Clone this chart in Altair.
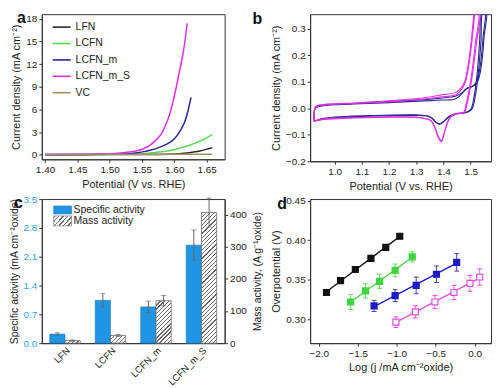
import altair as alt
import pandas as pd

FONT = "Liberation Sans"

# ---------------- panel a : LSV curves ----------------
a_names = ["LFN", "LCFN", "LCFN_m", "LCFN_m_S", "VC"]
a_colors = ["#2a2a2a", "#55d855", "#262690", "#e22ee2", "#a3925f"]
lfn_pot = [1.40, 1.45, 1.50, 1.55, 1.59, 1.615, 1.64, 1.659]
lfn_cur = [0.0, 0.01, 0.02, 0.04, 0.08, 0.21, 0.5, 0.94]
lcfn_pot = [1.40, 1.45, 1.50, 1.542, 1.571, 1.596, 1.62, 1.64, 1.659]
lcfn_cur = [0.01, 0.02, 0.04, 0.1, 0.3, 0.6, 1.16, 1.8, 2.66]
lcfnm_pot = [1.40, 1.45, 1.50, 1.527, 1.54, 1.551, 1.564, 1.576, 1.586, 1.596, 1.604, 1.61, 1.616, 1.62, 1.626]
lcfnm_cur = [0.02, 0.04, 0.07, 0.13, 0.24, 0.38, 0.62, 0.94, 1.3, 1.8, 2.5, 3.3, 4.3, 5.4, 7.6]
lcfnms_pot = [1.40, 1.45, 1.50, 1.517, 1.53, 1.542, 1.552, 1.561, 1.571, 1.581, 1.587, 1.593, 1.598, 1.603, 1.608, 1.613, 1.617, 1.62]
lcfnms_cur = [0.03, 0.06, 0.12, 0.22, 0.35, 0.52, 0.8, 1.16, 1.9, 2.9, 4.0, 5.4, 7.0, 8.9, 11.0, 13.1, 15.3, 17.4]
vc_pot = [1.40, 1.50, 1.60, 1.659]
vc_cur = [0.05, 0.05, 0.06, 0.07]

# ---------------- panel b : CV loops (two cycles each) ----------------
b_names = ["LCFN_m", "LCFN_m_S"]
b_colors = ["#2d2db8", "#dd48dd"]
cvm1_pot = [0.925, 0.93, 0.96, 1.00, 1.07, 1.15, 1.25, 1.33, 1.39, 1.446, 1.475, 1.487, 1.505, 1.522, 1.534, 1.543, 1.550, 1.558,
            1.546, 1.538, 1.528, 1.517, 1.505, 1.487, 1.446, 1.425, 1.41, 1.396, 1.385, 1.372, 1.36, 1.345, 1.30, 1.20, 1.10, 1.00, 0.96, 0.935, 0.925]
cvm1_cur = [-0.05, 0.0, 0.01, 0.013, 0.016, 0.019, 0.024, 0.028, 0.031, 0.036, 0.063, 0.075, 0.081, 0.093, 0.129, 0.189, 0.273, 0.369,
            0.369, 0.249, 0.129, 0.045, -0.003, -0.015, -0.02, -0.028, -0.04, -0.054, -0.059, -0.052, -0.038, -0.029, -0.025, -0.026, -0.028, -0.033, -0.038, -0.045, -0.05]
cvm2_pot = [0.925, 0.93, 0.96, 1.00, 1.07, 1.15, 1.25, 1.33, 1.39, 1.446, 1.47, 1.485, 1.50, 1.515, 1.528, 1.538, 1.546, 1.553,
            1.542, 1.533, 1.524, 1.513, 1.50, 1.48, 1.446, 1.425, 1.41, 1.396, 1.385, 1.372, 1.36, 1.345, 1.30, 1.20, 1.10, 1.00, 0.96, 0.935, 0.925]
cvm2_cur = [-0.045, 0.003, 0.012, 0.015, 0.018, 0.022, 0.028, 0.033, 0.038, 0.046, 0.06, 0.075, 0.08, 0.09, 0.12, 0.18, 0.27, 0.37,
            0.37, 0.25, 0.13, 0.045, -0.005, -0.017, -0.022, -0.03, -0.042, -0.055, -0.06, -0.053, -0.04, -0.031, -0.027, -0.028, -0.031, -0.036, -0.041, -0.046, -0.045]
cvs1_pot = [0.925, 0.93, 0.96, 1.00, 1.07, 1.15, 1.25, 1.33, 1.39, 1.446, 1.469, 1.481, 1.490, 1.499, 1.507, 1.514, 1.518,
            1.534, 1.522, 1.507, 1.493, 1.485, 1.478, 1.446, 1.428, 1.416, 1.404, 1.393, 1.381, 1.369, 1.355, 1.32, 1.25, 1.07, 0.96, 0.925]
cvs1_cur = [-0.05, 0.003, 0.012, 0.015, 0.018, 0.022, 0.028, 0.035, 0.043, 0.051, 0.075, 0.099, 0.141, 0.201, 0.273, 0.345, 0.38,
            0.369, 0.249, 0.129, 0.045, 0.009, -0.015, -0.02, -0.03, -0.05, -0.09, -0.127, -0.11, -0.075, -0.048, -0.036, -0.032, -0.035, -0.04, -0.05]
cvs2_pot = [0.925, 0.93, 0.96, 1.00, 1.07, 1.15, 1.25, 1.33, 1.39, 1.446, 1.466, 1.478, 1.487, 1.496, 1.504, 1.511, 1.515,
            1.530, 1.518, 1.504, 1.490, 1.482, 1.475, 1.446, 1.428, 1.416, 1.404, 1.393, 1.381, 1.369, 1.355, 1.32, 1.25, 1.07, 0.96, 0.925]
cvs2_cur = [-0.047, 0.005, 0.014, 0.017, 0.02, 0.025, 0.032, 0.04, 0.05, 0.06, 0.078, 0.1, 0.14, 0.2, 0.27, 0.345, 0.38,
            0.37, 0.25, 0.13, 0.045, 0.009, -0.015, -0.022, -0.032, -0.052, -0.09, -0.122, -0.106, -0.073, -0.047, -0.037, -0.034, -0.037, -0.042, -0.047]

# ---------------- panel c : activities ----------------
c_cats = ["LFN", "LCFN", "LCFN_m", "LCFN_m_S"]
spec_val = [0.22, 1.04, 0.88, 2.38]
spec_err = [0.03, 0.16, 0.14, 0.37]
mass_val = [8, 24, 132, 406]
mass_err = [2, 3, 16, 45]

# ---------------- panel d : Tafel ----------------
d_names = ["LFN", "LCFN_m", "LCFN", "LCFN_m_S"]
d_stroke = ["#111111", "#1c1cc0", "#3fd43f", "#e050e0"]
d_fill = ["#111111", "#1c1cc0", "#3fd43f", "#ffffff"]
lfn_logj = [-1.90, -1.72, -1.53, -1.33, -1.14, -0.96]
lfn_eta = [0.334, 0.349, 0.363, 0.377, 0.391, 0.405]
lfn_err = [0.003, 0.003, 0.003, 0.003, 0.003, 0.003]
lcfn_logj = [-1.59, -1.40, -1.22, -1.02, -0.80]
lcfn_eta = [0.322, 0.336, 0.348, 0.362, 0.379]
lcfn_err = [0.0095, 0.009, 0.009, 0.008, 0.0065]
lcfnm_logj = [-1.29, -1.02, -0.75, -0.49, -0.23]
lcfnm_eta = [0.317, 0.330, 0.343, 0.357, 0.372]
lcfnm_err = [0.007, 0.0075, 0.0105, 0.0105, 0.011]
lcfnms_logj = [-1.01, -0.76, -0.51, -0.265, -0.06, 0.065]
lcfnms_eta = [0.2965, 0.3095, 0.322, 0.334, 0.3455, 0.3535]
lcfnms_err = [0.0067, 0.0077, 0.0083, 0.009, 0.010, 0.0103]

# ---------------- layout sizes ----------------
WA, HA = 184, 146
WB, HB = 182, 148
WC, HC = 184, 145
WD, HD = 182, 145
TXT = "#222222"


def letter(ch, x, y):
    return alt.Chart(pd.DataFrame({"t": [ch]})).mark_text(
        align="left", baseline="top", fontSize=16, fontWeight="bold", font=FONT, color="#111"
    ).encode(text="t:N", x=alt.value(x), y=alt.value(y))


def curves(items):
    rows = []
    for name, cyc, pots, curs in items:
        for i, (p, c) in enumerate(zip(pots, curs)):
            rows.append({"series": name, "cycle": cyc, "pot": p, "cur": c, "idx": i})
    return pd.DataFrame(rows)


# ---- panel a
a_df = curves([("LFN", 1, lfn_pot, lfn_cur), ("LCFN", 1, lcfn_pot, lcfn_cur), ("LCFN_m", 1, lcfnm_pot, lcfnm_cur),
               ("LCFN_m_S", 1, lcfnms_pot, lcfnms_cur), ("VC", 1, vc_pot, vc_cur)])
a_lines = alt.Chart(a_df).mark_line(strokeWidth=1.5, clip=True, interpolate="monotone").encode(
    x=alt.X("pot:Q", scale=alt.Scale(domain=[1.395, 1.678], nice=False, zero=False),
            axis=alt.Axis(values=[1.40, 1.45, 1.50, 1.55, 1.60, 1.65], format=".2f", title="Potential (V vs. RHE)")),
    y=alt.Y("cur:Q", scale=alt.Scale(domain=[-0.6, 18.6], nice=False),
            axis=alt.Axis(values=[0, 3, 6, 9, 12, 15, 18], title="Current density (mA cm⁻²)")),
    color=alt.Color("series:N", scale=alt.Scale(domain=a_names, range=a_colors),
                    legend=alt.Legend(title=None, orient="none", legendX=10, legendY=3, symbolType="stroke",
                                      symbolSize=330, symbolStrokeWidth=1.6, labelFontSize=10.5, rowPadding=0.5,
                                      labelOffset=4)),
    order="idx:Q",
)
pa = alt.layer(a_lines, letter("a", -25, -4)).properties(width=WA, height=HA)

# ---- panel b
b_df = curves([("LCFN_m", 1, cvm1_pot, cvm1_cur), ("LCFN_m", 2, cvm2_pot, cvm2_cur),
               ("LCFN_m_S", 1, cvs1_pot, cvs1_cur), ("LCFN_m_S", 2, cvs2_pot, cvs2_cur)])
b_lines = alt.Chart(b_df).mark_line(strokeWidth=1.1, clip=True, interpolate="catmull-rom").encode(
    x=alt.X("pot:Q", scale=alt.Scale(domain=[0.91, 1.575], nice=False, zero=False),
            axis=alt.Axis(values=[1.0, 1.1, 1.2, 1.3, 1.4, 1.5], format=".1f", title="Potential (V vs. RHE)")),
    y=alt.Y("cur:Q", scale=alt.Scale(domain=[-0.2, 0.355], nice=False),
            axis=alt.Axis(values=[-0.2, -0.1, 0.0, 0.1, 0.2, 0.3], format=".1f", title="Current density  (mA cm⁻²)")),
    color=alt.Color("series:N", scale=alt.Scale(domain=b_names, range=b_colors),
                    legend=alt.Legend(title=None, orient="none", legendX=10, legendY=3, symbolType="stroke",
                                      symbolSize=330, symbolStrokeWidth=1.6, labelFontSize=10.5, rowPadding=0.5,
                                      labelOffset=4)),
    detail="cycle:N",
    order="idx:Q",
)
pb = alt.layer(b_lines, letter("b", -58, -3)).properties(width=WB, height=HB)

# ---- panel c
c_df = pd.DataFrame({"cat": c_cats, "spec": spec_val, "spec_err": spec_err, "mass": mass_val, "mass_err": mass_err})
c_df["spec_lo"] = c_df["spec"] - c_df["spec_err"]
c_df["spec_hi"] = c_df["spec"] + c_df["spec_err"]
c_df["mass_lo"] = c_df["mass"] - c_df["mass_err"]
c_df["mass_hi"] = c_df["mass"] + c_df["mass_err"]

P_IN, P_OUT = 0.33, 0.175
SPEC_MAX, MASS_MAX = 3.5, 448.0
step = WC / (len(c_cats) - P_IN + 2 * P_OUT)
sub_w = step * (1 - P_IN) / 2.0


def hatch(w, h, period=4.2, ink_w=1.3, ink="#6a6a6a", paper="#ffffff"):
    h = max(h, 0.5)
    span = w + h
    n = max(1, int(round(span / period)))
    f = ink_w / period
    stops = []
    for i in range(n):
        t0 = i / n
        t1 = (i + f) / n
        t2 = (i + 1) / n
        stops += [alt.GradientStop(offset=round(t0, 5), color=ink), alt.GradientStop(offset=round(t1, 5), color=ink),
                  alt.GradientStop(offset=round(t1, 5), color=paper), alt.GradientStop(offset=round(t2, 5), color=paper)]
    s = span * h / (h * h + w * w)
    return alt.LinearGradient(gradient="linear", stops=stops, x1=0, y1=0, x2=s * w / h, y2=s)


xenc = alt.X("cat:N", sort=c_cats, scale=alt.Scale(domain=c_cats, paddingInner=P_IN, paddingOuter=P_OUT),
             axis=alt.Axis(title=None, labelAngle=315, labelFontSize=9.5, ticks=False, labelPadding=2,
                           labelLimit=300, labelAlign="right", labelBaseline="top"))
xoff = alt.XOffset("kind:N", scale=alt.Scale(domain=["Specific", "Mass"], paddingInner=0, paddingOuter=0))
spec_base = alt.Chart(c_df).transform_calculate(kind="'Specific'")
spec_axis = alt.Axis(values=[0, 0.7, 1.4, 2.1, 2.8, 3.5], format=".1f", labelColor="#2aa3df",
                     title="Specific activity  (mA cm⁻²oxide)", titleFontSize=10.5)
spec_scale = alt.Scale(domain=[0, SPEC_MAX], nice=False)
spec_bars = spec_base.mark_bar(color="#1f95e4", stroke="#1a78bd", strokeWidth=0.6).encode(
    x=xenc, xOffset=xoff, y=alt.Y("spec:Q", scale=spec_scale, axis=spec_axis))
spec_rule = spec_base.mark_rule(color="#666", strokeWidth=1).encode(
    x=xenc, xOffset=xoff, y=alt.Y("spec_lo:Q", scale=spec_scale, axis=spec_axis), y2="spec_hi:Q")
spec_cap = spec_base.mark_tick(color="#666", orient="horizontal", size=5, thickness=1).encode(
    x=xenc, xOffset=xoff, y=alt.Y("spec_hi:Q", scale=spec_scale, axis=spec_axis))
spec_cap2 = spec_base.mark_tick(color="#666", orient="horizontal", size=5, thickness=1).encode(
    x=xenc, xOffset=xoff, y=alt.Y("spec_lo:Q", scale=spec_scale, axis=spec_axis))
spec_grp = alt.layer(spec_bars, spec_rule, spec_cap, spec_cap2)

mass_scale = alt.Scale(domain=[0, MASS_MAX], nice=False)
mass_axis = alt.Axis(orient="right", values=[0, 100, 200, 300, 400], title="Mass activity, (A g⁻¹oxide)",
                     titleAngle=270, titleBaseline="top", titleFontSize=10.5, titlePadding=6)
mass_layers = []
for i, (cat, mv) in enumerate(zip(c_cats, mass_val)):
    hpx = mv / MASS_MAX * HC
    mass_layers.append(
        alt.Chart(c_df).transform_filter(alt.datum.cat == cat).transform_calculate(kind="'Mass'")
        .mark_bar(fill=hatch(sub_w, hpx), stroke="#6a6a6a", strokeWidth=0.8)
        .encode(x=xenc, xOffset=xoff, y=alt.Y("mass:Q", scale=mass_scale, axis=mass_axis)))
mass_base = alt.Chart(c_df).transform_calculate(kind="'Mass'")
mass_rule = mass_base.mark_rule(color="#666", strokeWidth=1).encode(
    x=xenc, xOffset=xoff, y=alt.Y("mass_lo:Q", scale=mass_scale, axis=mass_axis), y2="mass_hi:Q")
mass_cap = mass_base.mark_tick(color="#666", orient="horizontal", size=5, thickness=1).encode(
    x=xenc, xOffset=xoff, y=alt.Y("mass_hi:Q", scale=mass_scale, axis=mass_axis))
mass_cap2 = mass_base.mark_tick(color="#666", orient="horizontal", size=5, thickness=1).encode(
    x=xenc, xOffset=xoff, y=alt.Y("mass_lo:Q", scale=mass_scale, axis=mass_axis))
mass_grp = alt.layer(*mass_layers, mass_rule, mass_cap, mass_cap2)

c_leg_df = pd.DataFrame({"lab": ["Specific activity", "Mass activity"]})
leg_spec_rect = alt.Chart(c_leg_df.iloc[:1]).mark_rect(color="#1f95e4", stroke="#1a78bd", strokeWidth=0.6).encode(
    x=alt.value(12), x2=alt.value(30), y=alt.value(7), y2=alt.value(15))
leg_mass_rect = alt.Chart(c_leg_df.iloc[1:]).mark_rect(fill=hatch(18, 9), stroke="#6a6a6a", strokeWidth=0.6).encode(
    x=alt.value(12), x2=alt.value(30), y=alt.value(17), y2=alt.value(27))
leg_spec_txt = alt.Chart(c_leg_df.iloc[:1]).mark_text(align="left", baseline="middle", fontSize=10.5, font=FONT, color=TXT).encode(
    text="lab:N", x=alt.value(32), y=alt.value(11.5))
leg_mass_txt = alt.Chart(c_leg_df.iloc[1:]).mark_text(align="left", baseline="middle", fontSize=10.5, font=FONT, color=TXT).encode(
    text="lab:N", x=alt.value(32), y=alt.value(22.5))

pc = alt.layer(spec_grp, mass_grp).resolve_scale(y="independent").properties(width=WC, height=HC)
pc = alt.layer(pc, leg_spec_rect, leg_mass_rect, leg_spec_txt, leg_mass_txt, letter("c", -28, -4))

# ---- panel d
rows = []
for name, xs, ys, es in [("LFN", lfn_logj, lfn_eta, lfn_err), ("LCFN", lcfn_logj, lcfn_eta, lcfn_err),
                         ("LCFN_m", lcfnm_logj, lcfnm_eta, lcfnm_err), ("LCFN_m_S", lcfnms_logj, lcfnms_eta, lcfnms_err)]:
    for x, y, e in zip(xs, ys, es):
        rows.append({"series": name, "logj": x, "eta": y, "lo": y - e, "hi": y + e})
d_df = pd.DataFrame(rows)
dx = alt.X("logj:Q", scale=alt.Scale(domain=[-2.11, 0.21], nice=False, zero=False),
           axis=alt.Axis(values=[-2.0, -1.5, -1.0, -0.5, 0.0], format=".1f", title="Log (j /mA cm⁻²oxide)"))
dscale = alt.Scale(domain=[0.27, 0.452], nice=False, zero=False)
dy_axis = alt.Axis(values=[0.30, 0.35, 0.40, 0.45], format=".2f", title="Overpotential (V)")
sscale = alt.Scale(domain=d_names, range=d_stroke)
fscale = alt.Scale(domain=d_names, range=d_fill)
base_d = alt.Chart(d_df)
d_fit = base_d.transform_regression("logj", "eta", groupby=["series"]).mark_line(strokeWidth=1.3).encode(
    x=dx, y=alt.Y("eta:Q", scale=dscale, axis=dy_axis), stroke=alt.Stroke("series:N", scale=sscale, legend=None))
d_err = base_d.mark_rule(strokeWidth=1, opacity=0.85).encode(
    x=dx, y=alt.Y("lo:Q", scale=dscale, axis=dy_axis), y2="hi:Q", stroke=alt.Stroke("series:N", scale=sscale, legend=None))
d_cap1 = base_d.mark_tick(orient="horizontal", size=5, thickness=1, opacity=0.85).encode(
    x=dx, y=alt.Y("lo:Q", scale=dscale, axis=dy_axis), color=alt.Color("series:N", scale=sscale, legend=None))
d_cap2 = base_d.mark_tick(orient="horizontal", size=5, thickness=1, opacity=0.85).encode(
    x=dx, y=alt.Y("hi:Q", scale=dscale, axis=dy_axis), color=alt.Color("series:N", scale=sscale, legend=None))
d_leg = alt.Legend(title=None, orient="none", legendX=14, legendY=3, columns=2, columnPadding=14, rowPadding=1,
                   symbolType="square", symbolSize=40, labelFontSize=10.5, labelOffset=6)
d_pts = base_d.mark_square(size=36, strokeWidth=1.2, opacity=1).encode(
    x=dx, y=alt.Y("eta:Q", scale=dscale, axis=dy_axis),
    stroke=alt.Stroke("series:N", scale=sscale, legend=d_leg),
    fill=alt.Fill("series:N", scale=fscale, legend=d_leg),
)
pd_ = alt.layer(d_fit, d_err, d_cap1, d_cap2, d_pts, letter("d", -33, -3)).properties(width=WD, height=HD)

chart = alt.concat(pa, pb, pc, pd_, columns=2, spacing=alt.RowColnumber(row=38, column=86)).properties(
    bounds="flush", padding={"left": 0, "top": 0, "right": 0, "bottom": 14}
).configure(font=FONT).configure_view(stroke="#333333", strokeWidth=1).configure_axis(
    labelFontSize=10, titleFontSize=11, titleFontWeight="normal", labelColor=TXT, titleColor=TXT,
    domainColor="#333333", tickColor="#333333", tickSize=3, grid=False, labelPadding=2, titlePadding=4,
    labelFont=FONT, titleFont=FONT
).configure_legend(labelFont=FONT, labelColor=TXT)

chart.save("out.html", embed_options={"renderer": "svg", "actions": False})
